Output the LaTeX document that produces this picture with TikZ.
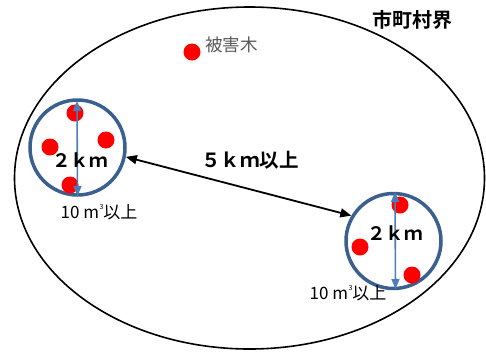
\documentclass[tikz,border=0pt]{standalone}
\usepackage{fontspec}
\setmainfont{Noto Sans CJK JP}[BoldFont={Noto Sans CJK JP Bold}]
\usetikzlibrary{arrows.meta}
\definecolor{ringblue}{HTML}{3B6090}
\definecolor{arrowblue}{HTML}{4A7EBB}
\definecolor{dotred}{HTML}{FF0000}
\definecolor{labelgray}{HTML}{595959}
\newcommand{\cubem}{m\kern0.5pt\raisebox{0.55em}{\fontsize{7}{7}\selectfont 3}}
\begin{document}
\begin{tikzpicture}[x=1pt,y=-1pt,
 ring/.style={circle,draw=ringblue,line width=3.5pt,minimum size=95pt,inner sep=0pt},
 dot/.style={circle,fill=dotred,minimum size=17pt,inner sep=0pt},
 span/.style={draw=arrowblue,line width=1.6pt,{Triangle[length=10pt,width=8pt]}-{Triangle[length=10pt,width=8pt]}},
 dist/.style={line width=1.8pt,{Triangle[length=11pt,width=9pt]}-{Triangle[length=11pt,width=9pt]}},
 kmlabel/.style={font=\bfseries\fontsize{18.5}{18.5}\selectfont,inner sep=0pt},
 farlabel/.style={font=\bfseries\fontsize{19.5}{19.5}\selectfont,inner sep=0pt},
 vollabel/.style={font=\fontsize{17}{17}\selectfont,inner sep=0pt},
 titlelabel/.style={font=\bfseries\fontsize{20}{20}\selectfont,inner sep=0pt},
 keylabel/.style={font=\fontsize{17.5}{17.5}\selectfont,text=labelgray,inner sep=0pt}]
\useasboundingbox (0,0) rectangle (486,351);
\draw[line width=1.6pt] (249.5,178) ellipse [x radius=235pt, y radius=171pt];
\node[titlelabel] (title) at (412,20) {市町村界};
\node[dot] (kdot) at (192,52) {};
\node[keylabel,anchor=west] (key) at (205,45) {被害木};
\node[ring] (c1) at (77.5,147.5) {};
\node[ring] (c2) at (393.5,241) {};
\node[dot] (d11) at (75,113) {};
\node[dot] (d12) at (106,140) {};
\node[dot] (d13) at (50,147) {};
\node[dot] (d14) at (70,185) {};
\node[dot] (d21) at (400,205) {};
\node[dot] (d22) at (360,247) {};
\node[dot] (d23) at (412,275) {};
\coordinate (a1t) at (77,101);
\coordinate (a1b) at (77.5,196);
\coordinate (a2t) at (395,192);
\coordinate (a2b) at (395.5,289);
\draw[span] (a1t) -- (a1b);
\draw[span] (a2t) -- (a2b);
\node[kmlabel] (k1) at (80,160) {２ｋｍ};
\node[kmlabel] (k2) at (395,233) {２ｋｍ};
\draw[dist] (c1.-11) -- (c2.149);
\node[farlabel] (k3) at (250,160) {５ｋｍ以上};
\node[vollabel] (v1) at (99,212) {10 \cubem 以上};
\node[vollabel] (v2) at (348,293) {10 \cubem 以上};
\end{tikzpicture}
\end{document}
